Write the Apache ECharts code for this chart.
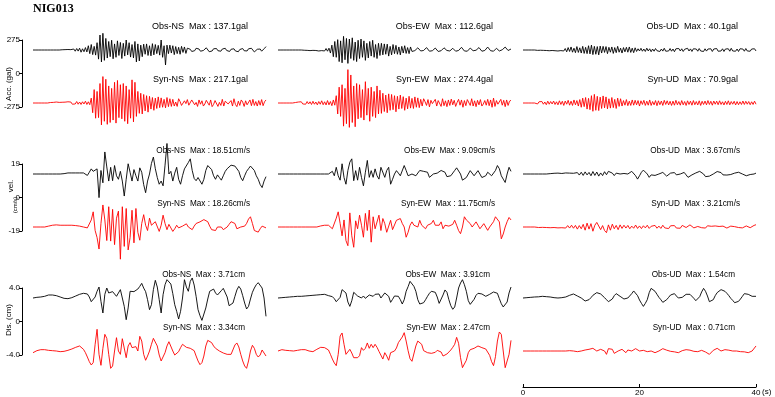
<!DOCTYPE html>
<html>
<head>
<meta charset="utf-8">
<script src="https://cdn.jsdelivr.net/npm/echarts@6.0.0/dist/echarts.min.js"></script>
<style>
html, body { margin: 0; padding: 0; background: #fff; }
#main { width: 775px; height: 397px; }
</style>
</head>
<body>
<div id="main"></div>
<script>
// 観測点と成分
var station = 'NIG013';
var components = ['NS', 'EW', 'UD'];
var rowNames = ['Acc. (gal)', 'vel.', 'Dis. (cm)'];
var units = ['gal', 'cm/s', 'cm'];
var rowMax = [275, 19, 4.0];
var tickLabels = [['275', '0', '-275'], ['19', '0', '-19'], ['4.0', '0', '-4.0']];
var timeTicks = [0, 20, 40];
var obsMax = [[137.1, 112.6, 40.1], [18.51, 9.09, 3.67], [3.71, 3.91, 1.54]];
var synMax = [[217.1, 274.4, 70.9], [18.26, 11.75, 3.21], [3.34, 2.47, 0.71]];

// 加速度 (gal), 0-40s
var accObsNS = [0,0,0,0,0,0,0,0,0,0,0,0,0,0,0,0,0,0,0,0,
  2,-3,3,-2,4,-5,3,-4,
  8,-10,12,-9,15,-18,10,-14,20,-16,
  35,-30,45,-38,30,-42,
  60,-75,123,-98,137,-85,95,-66,
  70,-55,80,-72,50,-60,75,-45,62,-70,55,-50,
  82,-40,60,-58,
  45,-65,70,-98,50,-90,40,-55,48,-35,
  50,-45,35,-48,52,-40,45,-30,38,-42,
  82,-60,35,-123,40,-30,
  40,-25,35,-38,28,-30,22,-35,30,-20,25,-28,
  15,22,6,-12,-20,-6,14,24,8,-10,-18,-4,12,18,2,-14,-22,-8,10,20,
  12,-6,-16,-10,8,22,14,-4,-18,-12,6,18,10,-8,-20,-14,4,16,12,-6,
  -14,-8,10,24,14,-2,-16,-10,6,18,8,-10,-6,14,28];
var accSynNS = [0,0,0,0,0,0,0,0,0,0,0,0,
  4,-6,5,-4,8,-6,5,-8,6,-5,7,-9,10,-6,8,-10,6,-8,12,-10,8,-12,10,-8,15,-12,10,-14,
  40,-80,110,-125,95,-120,
  160,-180,217,-150,195,-175,140,-160,
  120,-140,170,-165,185,-120,150,-130,
  160,-150,140,-170,110,-125,190,-155,170,-110,
  95,-85,80,-90,70,-65,60,-75,
  55,-50,45,-60,40,-45,50,-38,42,-35,30,-40,45,-30,35,-28,
  30,-25,8,-28,35,12,-20,-30,18,-5,28,-18,-22,25,30,-15,5,-28,25,-10,
  18,-25,-8,22,15,-18,25,-30,-12,20,22,-28,5,-20,30,-25,15,22,-8,-18,
  20,-25,35,-12,-30,15,-20,25,8,-28,18,-15,-5,25,-22,30,-20,12,-25,20,
  -18,28,-22,10,25];
var accObsEW = [0,0,0,0,0,0,0,0,0,0,0,0,0,0,0,0,0,
  3,-2,4,-3,2,-5,4,-3,6,-4,5,-8,6,-5,10,-8,12,-10,15,
  -25,40,-55,70,-60,85,-95,75,
  -105,112,-80,95,-110,90,-70,100,-85,65,-95,80,
  -70,90,-60,75,-85,55,-65,70,-50,80,-60,45,-70,55,
  -45,55,-40,50,-35,48,-50,30,-40,45,-30,38,-35,25,-40,30,-25,35,-28,20,-30,25,
  -12,-20,-5,10,18,6,-8,-16,-4,12,20,8,-10,-18,-6,8,16,4,-12,-20,
  -6,10,18,10,-4,-14,-8,6,14,2,-10,-16,-4,12,22,8,-8,-18,-10,4,
  16,10,-6,-14,-2,12,20,6,-10,-16,-4,10,24,12,-6,-18,-10,6,14,4,
  -8,-12,2,14,24,10,-4,-12,8];
var accSynEW = [0,0,0,0,0,0,0,0,0,0,0,0,
  4,-6,8,-5,10,-8,6,-10,12,-8,10,-12,14,-10,8,-15,12,-10,18,-14,10,-16,20,-15,12,-22,25,-18,
  60,-90,130,-110,150,-190,120,-170,
  274,-200,230,-160,140,-195,160,-130,
  150,-120,110,-140,175,-100,120,-150,
  130,-110,95,-120,140,-90,105,-85,
  80,-70,65,-80,75,-60,70,-55,60,-72,55,-50,65,-45,52,-60,40,-48,55,-42,38,-45,50,-35,42,-38,
  30,-25,35,10,-20,28,-32,22,-5,-18,30,-25,20,8,-28,35,-22,18,-30,25,
  -20,32,-15,22,-28,5,30,-18,25,-35,20,-22,28,12,-20,35,-25,18,-30,22,
  -15,28,-25,-8,20,-18,30,-22,25,-35,40,-28,20,-10,-25,30,-18,22,-30,25,
  -20,15,22];
var accObsUD = [0,0,0,0,0,0,0,0,0,
  2,-3,3,-2,4,-3,5,-4,3,-6,5,-4,8,-6,5,-8,6,-5,10,-8,12,
  -15,20,-12,25,-18,15,-22,28,-20,18,-25,30,-28,22,-30,35,
  -32,40,-38,30,-35,28,-40,32,
  -25,30,-20,28,-30,22,-18,25,-28,20,-22,30,-18,15,-25,20,-15,22,-18,25,-20,15,-22,18,
  -12,10,-8,14,-10,8,-12,15,-8,10,-14,8,-10,12,-6,10,-12,8,-9,14,
  -10,6,-8,12,-10,8,-14,10,-6,12,-8,10,-12,6,-10,14,-8,9,-12,10,
  -6,8,-10,12,-8,6,-12,10,-9,8,-6,10,-12,8,-8,12,-10,6,-8,10,
  -12,8,-6,10,-10,14,-8,6,-10,8,-12,10,-6,8,-10,12,-8,6,-10,8,
  -6,10,-8];
var accSynUD = [0,0,0,0,0,0,0,0,0,
  5,-8,10,-6,12,-10,8,-14,15,-10,12,-8,16,-12,10,-15,18,-12,14,-20,16,-10,22,-18,15,-20,25,-15,20,-25,28,
  -35,40,-30,45,-50,38,-55,60,
  -68,71,-60,55,-62,48,-45,58,
  -40,50,-48,35,-42,45,-38,30,-45,40,-28,35,
  -25,20,-18,28,-22,15,-20,25,-18,22,-15,20,-25,18,-12,22,-20,15,-18,25,
  -20,12,-15,20,-22,18,-14,16,-20,22,-12,18,-16,14,-20,15,-18,22,-14,12,
  -18,20,-15,12,-20,18,-12,15,-18,20,-14,12,-16,18,-20,14,-12,16,-15,20,
  -12,14,-18,16,-10,15,-14,18,-12,10,-16,14,-12,18,-15,12,-10,14,-16,12,
  -14,10,-12,16,-12,14,-10,12,-14,10,-12,15,-10];

// 速度 (cm/s)
var velObsNS = [0,0,0,0,0,0,0,0,0,0,0,0,0,0,0,0,0.2,0.4,
  0.6,0.6,0.6,0.6,0.6,0.6,0.6,0.6,0.6,0.6,-0.8,1.0,
  2.9,1.5,0.6,2.9,-13.4,2.0,-5,12.5,4,-4,
  3.8,-3.8,4.8,-1,-3,1.5,-4,-12.5,-3,5.8,
  1,-4,2.5,-1,-4,3.5,1,-6,-10.6,-4,
  0,6,9.6,3,-2,-5.8,-4,-6.7,5,17.3,
  0,1.5,-4,0.5,3.8,-3,-5.8,-1,2.9,4,
  6.5,8.6,2,-2.5,-3.8,-2,-2.9,-5.8,-3,2,
  4.8,5.8,2.5,-1,-3,-0.5,-2,-3.5,-1,1.5,
  3,4,5,5.8,4.5,5.5,1.5,-2,-3.8,-1,
  1.5,3,4.5,4.8,2,-1,-3,-6,-7.7,-4,-1.5];
var velSynNS = [0,0,0,0,0,0,0,0,
  0.5,0.8,1,1,1.2,1,1,0.8,1,1.2,1,0.8,1,1,0.8,0.6,0.5,0.3,
  0,-0.6,-0.5,0,
  4,8.6,-2,-6,-12.5,2,12.5,4,-7.7,11.5,
  -8,10,-10,5,9,-18.26,11.5,-11,10.5,-13,
  -6,9.5,-9,10.5,-3,-7.5,2,7,1,-2,
  5,1,0,3,4,-2.5,1,6.7,2,-1.5,
  1.5,2,-2.5,-1,1,-0.5,-1,0.5,1.5,1.8,
  0,-1,-1.5,0.5,2,2.5,2.9,3.5,4.2,4.8,
  3,0.5,-1.5,-1,-2,0,1,0,-1.5,-1,
  0,1.5,3,3.8,2,-1,-1.5,0,1,0.5,
  2,4.5,5.8,2,-2,-2.5,-2.9,-1,0.5,0,-0.5];
var velObsEW = [0,0,0,0,0,0,0,0,0,0,0,0,0,0,0,0,0,0,0,0,0,0,0,0,0,0,0,
  0.3,1.5,-1,
  3.8,-1,-3.5,5.8,-2,-5.8,2,6.7,8.6,-3.8,
  1.9,-3.5,3.8,-2,-6.7,1,7.7,-1.9,1.9,-1.9,
  2.9,-1,-2.9,3.8,4.8,-1.9,2,3.8,-5.8,-3,
  0,1.9,0.5,-1,-0.5,4.8,2,-1,-1.9,0,
  1,-1,0,2,2.9,1.5,2,1,-1.9,-1,
  0,0,0.5,1,2,2.9,1,-1.5,-1.9,-1,
  0,2,3.5,3.8,0,-3.5,-3.8,-2,0,1.9,
  1.5,-1,-1.9,1.9,1,-2,-2.9,-1,1,0,
  -1,-1.9,2,4.8,3,-1,-2.9,-4.8,0,3.8,1.5];
var velSynEW = [0,0,0,0,0,0,0,0,0,0,0,0,0,0,0,0,0,0,0,0,0,0,
  0.6,1,1,0.8,1,0,-1,-1.5,
  5,8.6,2,-5,4,-7.7,-10.6,8,-5,-11.5,
  3.5,-1,6.7,1,-5.8,7.7,-2,9.6,-8.6,5.8,
  -1,0,6.7,-2,4.8,1.9,-3,-2.9,3.8,-1.5,
  -1.9,3.8,4,4.8,2,0,-5.8,-3,1,2.9,
  1,1,0,3.8,1,0,-1,1,1.9,2,
  3.8,1,0,1,2.9,-1,1,1.9,0.5,0,
  1.5,3.8,1,-2,-3.8,0,5.8,4,2.9,1.9,
  0,1,2.9,1,-1,0,1.9,1,-1.9,0,
  1,3,5.8,5,2.9,-6.7,-4,0,3,5.4,4];
var velObsUD = [0,0,0,0,0,0,0,0,0,0,0,0,0,0,
  0.2,-0.3,0.4,-0.2,0.5,-0.4,0.3,-0.5,0.6,-0.3,0.5,-0.6,0.4,-0.5,
  0.8,-0.6,1.0,-0.8,1.2,-0.5,0.9,-1.0,1.4,-0.8,1.1,-1.2,0.6,-0.9,1.3,-0.4,
  1.5,1.9,0.5,-0.9,0.5,1.2,
  0,-0.5,0.3,0.8,0,0.9,1.5,1.9,-1,-2.9,
  -1,1,2.2,3.0,0,-1.9,-0.5,0,-0.8,-1,
  0,0.6,0.9,0,-1.2,-0.8,0.5,1.2,0.8,-0.5,
  -1,0,0.8,0.9,-0.5,-1.9,-1.5,-0.5,0,0.6,
  1.2,1.5,1.6,0,-1.5,-1.9,-1.2,-0.5,0,0.8,
  1.4,1.6,0.8,-0.5,-1,-0.6,-0.5,-0.3,0,0.5,
  0.8,1,0.8,0,-0.8,-1,-0.6,-0.3,-0.6,0,0.5];
var velSynUD = [0,0,0,0,0,0,0,
  0.2,-0.3,0.3,-0.2,0.4,-0.3,0.2,-0.4,0.5,-0.3,0.4,-0.5,0.6,-0.4,0.5,-0.6,
  0.8,-0.6,1.0,-0.7,0.9,-1.2,0.8,-1.0,
  1.5,-1.8,2.2,-1.2,1.9,-2.4,1.0,2.6,1.5,-1.5,0.8,-2.0,-3.21,1.2,-1.8,1.6,-1.0,0.9,-1.5,1.2,
  -0.8,1.0,-0.6,0.9,-1.0,0.5,-0.7,1.1,-0.8,0.6,
  -0.9,0.7,-0.5,1.0,-0.8,0.4,-0.6,0.9,-0.7,0.5,
  -0.8,1.0,-0.5,0.6,-0.9,0.7,-0.4,0.8,-0.6,0.5,
  -0.7,0.9,0.4,-0.3,0.8,1.2,0.6,-0.5,-0.8,0.3,
  0.6,-0.4,0.5,-0.6,0.7,-0.3,0.4,-0.5,0.6,-0.4,
  0.3,0.8,0.5,-0.2,-0.6,0.3,0.5,-0.4,0.2,0.6,
  -0.3,0.4,-0.5,0.3,0.6,0.2,-0.4,0.5,0.9,1.3];

// 変位 (cm)
var disObsNS = [0,0.04,0.08,0.08,0.12,0.12,0.2,0.28,0.36,0.4,
  0.36,0.32,0.28,0.2,0.12,0.04,-0.04,-0.12,-0.08,-0.04,
  0.04,0.12,0.24,0.36,0.44,0.52,0.56,0.6,0.48,0.12,
  -0.44,-0.52,0.12,0.8,1.31,-0.4,-1.79,0.44,1.19,0.6,
  0.56,0.76,0.68,0.2,0.28,1.0,1.19,-1.0,-2.59,-1.19,
  0.8,0.88,0.76,0.76,1.07,1.39,1.75,1.19,0.76,-0.2,
  -1.39,-0.8,1.0,2.11,1.31,-0.2,-1.79,0.4,1.59,2.19,
  2.07,1.67,0.52,-0.8,-1.59,-2.51,-1.59,0,2.19,1.31,
  0.8,1.99,2.39,1.55,0.2,-1.39,-2.11,-2.67,-2.67,-1.19,
  -0.12,0.8,1.03,1.07,0.6,0.36,0.4,0.88,1.15,0.92,
  0.12,-0.92,-1.15,-0.6,0.2,0.96,1.39,1.07,0.28,-0.6,
  -1.31,-1.0,-0.12,0.68,1.19,1.59,1.83,1.87,1.19,0,-2.19];
var disSynNS = [-0.2,-0.08,0.04,0.12,0.16,0.2,0.16,0.12,0.08,0.08,
  0.04,0,0,-0.04,-0.08,-0.08,-0.04,0,0.08,0.16,
  0.24,0.32,0.44,0.52,0.6,0.44,0.2,-0.2,-0.72,-1.27,
  -1.67,-1.39,0.8,2.59,-0.4,-1.71,0.32,1.99,1.51,-0.4,
  -2.07,-1.79,0,1.59,0,-0.4,1.47,1.39,-0.8,0.6,
  1.0,0.4,0.2,0.52,0,1.75,1.19,-0.4,-1.11,-0.6,
  0,0.8,1.51,1.51,0.6,-0.48,-1.19,-1.19,-0.2,0.6,
  1.11,0.96,0,-0.48,-0.6,-0.08,0.4,0.8,0.64,0.44,
  0.32,0.32,0.24,0.04,-0.6,-1.19,-1.63,-1.39,-0.6,0.6,
  1.27,1.43,1.0,0.6,0.32,0.16,0,-0.12,-0.24,-0.28,
  -0.4,-0.56,-0.4,-0.2,0.72,0.96,0.48,-0.4,-1.19,-1.79,
  -2.07,-1.19,0,0.68,0.32,-0.4,-0.72,-0.48,0.12,0.32,-0.6];
var disObsEW = [0,0.02,0.04,0.06,0.08,0.1,0.12,0.14,0.16,0.18,
  0.2,0.2,0.2,0.24,0.24,0.28,0.28,0.28,0.32,0.36,
  0.36,0.4,0.4,0.44,0.44,0.36,0.28,0.2,0.16,-0.08,
  -0.44,-0.6,0.08,1.0,1.23,0.6,-0.48,-1.0,-0.32,0.68,
  0.8,0.24,0.36,0,0.24,-0.04,-0.08,0.36,0.48,0.2,
  0.44,0.64,0.48,0,0.12,0.6,0.8,0.2,-0.52,-0.16,
  0.24,0.36,0.2,-0.2,-0.72,-0.2,0.8,1.35,1.99,1.83,
  1.39,0.8,-0.2,-0.72,-0.8,-0.56,-0.2,0.2,0.56,0.8,
  0.92,0.68,0.12,-0.64,-0.48,0.36,0.96,0.68,-0.2,-0.92,
  -1.35,-1.07,0,1.19,1.79,2.19,1.59,0.8,-0.32,-0.76,
  -0.6,-0.16,0.32,0.56,0.56,0.48,0.28,0.2,0.32,0.44,
  0.56,0.72,0.76,0.56,-0.08,-0.68,-1.07,-1.19,-0.48,0.6,1.31];
var disSynEW = [0,0.2,0.16,0.12,0.08,0.08,0.04,0,0,0.04,
  0.08,0.12,0.16,0.2,0.16,0.08,0,-0.08,-0.08,0,
  0.2,0.36,0.44,0.48,0.4,0.28,0.12,-0.4,-0.96,-1.43,
  -1.75,-0.4,1.79,2.15,0.8,-0.4,-0.28,0.2,-0.24,-0.8,
  -0.6,-0.8,-0.56,0.4,0.08,0.32,0.96,0.32,0.8,0.4,
  0.8,0.44,-0.04,-0.12,-0.96,-0.2,-0.6,-1.11,-0.2,-0.36,
  0,0.36,1.0,1.15,1.67,2.19,1.19,0.04,-0.92,-1.23,
  -1.11,0.6,1.19,1.07,0.8,0.04,-0.12,-0.2,-0.2,-0.28,
  -0.4,-0.16,0.08,0.28,-0.12,-0.6,-0.6,-0.36,-0.12,0.12,
  0.44,0.8,1.63,0.92,-0.8,-1.99,-1.79,-1.11,-0.2,0.16,
  0.32,0.32,0.48,0.6,0.48,0.4,0.32,0.24,0.2,-0.52,
  -1.27,-1.75,-0.68,1.19,2.27,1.99,0,-1.99,-2.19,-0.4,1.27];
var disObsUD = [0,0.02,0.04,0.06,0.08,0.1,0.12,0.12,0.14,0.16,
  0.2,0.2,0.16,0.12,0.12,0.08,0.04,0,0,0,
  0.04,0.08,0.12,0.2,0.32,0.44,0.48,0.36,0.24,0.16,
  0,-0.16,-0.36,-0.4,-0.2,0.04,0.32,0.48,0.64,0.72,
  0.48,0.28,0.04,-0.2,-0.44,-0.56,-0.12,0.28,0.52,0.36,
  0.2,0.04,-0.12,-0.16,0,0.12,0.52,0.84,0.84,0.28,
  -0.24,-0.64,-1.0,-0.64,-0.2,0.64,1.15,1.0,0.8,0.44,
  0.08,-0.2,-0.52,-0.44,-0.2,0.08,0.36,0.56,0.52,0.24,
  0,-0.16,0.08,0.28,0.44,0.6,0.44,0.24,-0.04,-0.32,
  -0.12,0.16,0.72,1.15,0.8,0.24,-0.44,-0.44,-0.2,0.28,
  0.64,0.84,1.0,1.19,0.8,0.56,0.28,-0.04,-0.28,-0.56,
  -0.68,-0.4,-0.12,0.2,0.52,0.52,0.44,0.36,0.2,0.12,0.2];
var disSynUD = [0,0,0,0,0,0,0,0,0,0,0,0,0,0,0,0,0,0,0,0,0,0,0,0,
  0.04,0.08,0,-0.04,-0.08,-0.04,
  0,0.08,0.12,0.16,0.2,0.24,0.32,0.24,0,0.12,
  0.2,0.08,0,-0.4,0.28,0.44,0.2,-0.28,-0.48,0,
  0.12,0.2,0,-0.2,0.12,0.1,0,0.2,0.28,0.08,
  0,-0.08,0.08,0.2,-0.08,-0.2,0,-0.12,-0.2,0,
  0,0.16,0.28,0.28,0.1,0,-0.04,-0.08,-0.1,-0.16,
  -0.2,-0.08,0.04,0.12,0.16,0.2,0.1,0,-0.04,-0.08,
  -0.08,0,0.08,0.04,-0.12,-0.2,-0.4,-0.3,0.08,0.24,
  0.32,0.16,0,0.08,0.16,0.2,0.1,0.04,0,0,
  0,-0.04,-0.08,-0.08,-0.1,-0.16,-0.2,-0.2,0,0.2,0.6];

// [行][列][obs, syn]
var traces = [
  [[accObsNS, accSynNS], [accObsEW, accSynEW], [accObsUD, accSynUD]],
  [[velObsNS, velSynNS], [velObsEW, velSynEW], [velObsUD, velSynUD]],
  [[disObsNS, disSynNS], [disObsEW, disSynEW], [disObsUD, disSynUD]]
];

(function() {
  var myChart = echarts.init(document.getElementById('main'), null, { renderer: 'canvas' });

  var colX = [33, 278, 523], colW = 233;
  var rowTop = [40, 164, 288];     // 上の目盛りの位置
  var pxPerMax = 33.5;             // rowMax 分の高さ
  var labelShift = [0, 2, -3];
  var labelSize = [9, 8.2, 8.2];

  var grid = [], xAxis = [], yAxis = [], series = [], graphic = [];

  function addGrid(g, xa, ya) {
    grid.push(g);
    xa.gridIndex = grid.length - 1;
    ya.gridIndex = grid.length - 1;
    xAxis.push(xa);
    yAxis.push(ya);
    return grid.length - 1;
  }

  for (var r = 0; r < 3; r++) {
    // 左の縦軸
    (function(r) {
      addGrid({ left: 22, top: rowTop[r], width: 1, height: 67 },
        { type: 'value', show: false, min: 0, max: 1 },
        {
          type: 'value', min: -rowMax[r], max: rowMax[r], interval: rowMax[r],
          axisLine: { show: true, lineStyle: { color: '#000', width: 1 } },
          axisTick: { show: true, inside: false, length: 3, lineStyle: { color: '#000' } },
          splitLine: { show: false },
          axisLabel: {
            fontSize: 8, color: '#000', margin: 2, fontFamily: 'Liberation Sans',
            formatter: function(v) { return v > 0 ? tickLabels[r][0] : (v < 0 ? tickLabels[r][2] : tickLabels[r][1]); }
          }
        });
    })(r);

    for (var c = 0; c < 3; c++) {
      for (var k = 0; k < 2; k++) {
        var base = rowTop[r] + (k ? 63 : 10);
        var half = 40 * rowMax[r] / pxPerMax;
        var gi = addGrid({ left: colX[c], top: base - 40, width: colW, height: 80 },
          { type: 'value', min: 0, max: 40, show: false },
          { type: 'value', min: -half, max: half, show: false });
        var vals = traces[r][c][k];
        var dt = 40 / (vals.length - 1);
        series.push({
          type: 'line',
          xAxisIndex: gi,
          yAxisIndex: gi,
          data: vals.map(function(v, i) { return [i * dt, v]; }),
          showSymbol: false,
          symbol: 'none',
          silent: true,
          animation: false,
          lineStyle: { width: 0.9, color: k ? '#ff0000' : '#000000' }
        });
        var m = k ? synMax[r][c] : obsMax[r][c];
        var txt = (k ? 'Syn-' : 'Obs-') + components[c] + '  Max : ' +
          (r === 0 ? m.toFixed(1) : m.toFixed(2)) + units[r];
        graphic.push({
          type: 'text',
          x: colX[c] + 215 + labelShift[r],
          y: rowTop[r] + (k ? 40 : -13),
          silent: true,
          style: { text: txt, font: labelSize[r] + 'px "Liberation Sans", Arial, sans-serif', fill: '#000',
                   align: 'right', verticalAlign: 'middle', textAlign: 'right', textVerticalAlign: 'middle' }
        });
      }
    }
  }

  // 時間軸 (右下)
  addGrid({ left: 523, top: 367, width: 233, height: 20 },
    {
      type: 'value', min: 0, max: 40, interval: 20, position: 'bottom',
      axisLine: { show: true, onZero: false, lineStyle: { color: '#000', width: 1 } },
      axisTick: { show: true, inside: true, length: 3, lineStyle: { color: '#000' } },
      splitLine: { show: false },
      axisLabel: { fontSize: 8, color: '#000', margin: 2, fontFamily: 'Liberation Sans' }
    },
    { type: 'value', show: false });

  graphic.push({
    type: 'text', x: 762, y: 392, silent: true,
    style: { text: '(s)', font: '8px "Liberation Sans", Arial, sans-serif', fill: '#000',
             align: 'left', verticalAlign: 'middle', textAlign: 'left', textVerticalAlign: 'middle' }
  });

  // タイトル
  graphic.push({
    type: 'text', x: 33, y: 3, silent: true,
    style: { text: station, font: 'bold 12px "Liberation Serif", "Times New Roman", serif', fill: '#000',
             align: 'left', verticalAlign: 'top', textAlign: 'left', textVerticalAlign: 'top' }
  });

  // 縦軸の名前
  var rotFont = '8px "Liberation Sans", Arial, sans-serif';
  var nameDefs = [
    { text: rowNames[0], x: 9, y: 84, font: rotFont },
    { text: rowNames[1], x: 11, y: 186, font: rotFont },
    { text: '(cm/s)', x: 15, y: 205, font: '6px "Liberation Sans", Arial, sans-serif' },
    { text: rowNames[2], x: 9, y: 320, font: rotFont }
  ];
  nameDefs.forEach(function(d) {
    graphic.push({
      type: 'text', x: d.x, y: d.y, rotation: Math.PI / 2, silent: true,
      style: { text: d.text, font: d.font, fill: '#000', align: 'center', verticalAlign: 'middle',
               textAlign: 'center', textVerticalAlign: 'middle' }
    });
  });

  var option = {
    backgroundColor: '#fff',
    animation: false,
    grid: grid,
    xAxis: xAxis,
    yAxis: yAxis,
    series: series,
    graphic: graphic
  };
  myChart.setOption(option);
  window.addEventListener('resize', function() {
    myChart.resize();
  });
})();
</script>
</body>
</html>
